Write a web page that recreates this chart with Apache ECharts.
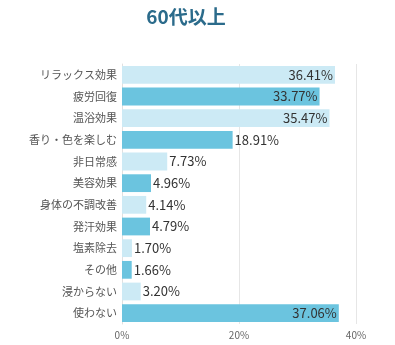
<!DOCTYPE html>
<html><head><meta charset="utf-8">
<script src="https://cdn.jsdelivr.net/npm/echarts@6/dist/echarts.min.js"></script>
<style>html,body{margin:0;padding:0;background:#fff}#c{width:395px;height:345px}</style>
</head><body><div id="c"></div>
<script>
const title = '60代以上';
const categories = ['リラックス効果','疲労回復','温浴効果','香り・色を楽しむ','非日常感','美容効果','身体の不調改善','発汗効果','塩素除去','その他','浸からない','使わない'];
const values = [36.41,33.77,35.47,18.91,7.73,4.96,4.14,4.79,1.70,1.66,3.20,37.06];
const xTicks = [0,20,40];
const lightColor = '#cceaf5';
const darkColor = '#6bc4df';

const chart = echarts.init(document.getElementById('c'));
const data = values.map((v,i)=>({
  value: v,
  itemStyle:{color: i%2===0 ? lightColor : darkColor},
  label:{position: v>30 ? 'insideRight' : 'right', distance: 2}
}));
chart.setOption({
  animation:false,
  title:{text:title,left:181,top:2,textAlign:'center',textStyle:{fontFamily:'Noto Sans CJK JP',fontSize:19,fontWeight:'bold',color:'#2b6b8b'}},
  grid:{left:122,right:39,top:64,bottom:21,containLabel:false},
  xAxis:{type:'value',min:xTicks[0],max:xTicks[xTicks.length-1],interval:xTicks[1]-xTicks[0],
    axisLabel:{formatter:v=>v+'%',fontSize:10,color:'#666',fontFamily:'Noto Sans CJK JP',margin:6},
    splitLine:{lineStyle:{color:'#e6e6e6'}},axisLine:{show:false},axisTick:{show:false}},
  yAxis:{type:'category',inverse:true,data:categories,
    axisLabel:{fontSize:11,color:'#555',fontFamily:'Noto Sans CJK JP',margin:5},
    axisLine:{show:true,lineStyle:{color:'#e0e0e0'}},axisTick:{show:false}},
  series:[{type:'bar',data:data,barCategoryGap:'18%',
    label:{show:true,formatter:p=>p.value.toFixed(2)+'%',fontSize:13,color:'#333',fontFamily:'Noto Sans CJK JP'}}]
});
</script></body></html>
